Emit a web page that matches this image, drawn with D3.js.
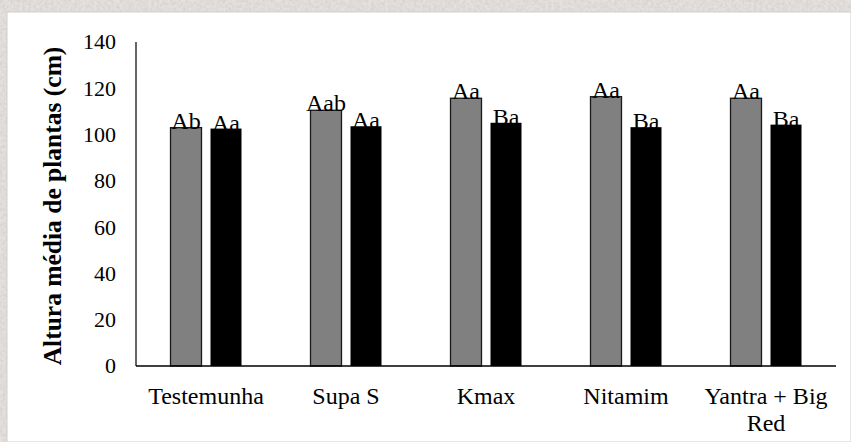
<!DOCTYPE html>
<html>
<head>
<meta charset="utf-8">
<script src="https://cdn.jsdelivr.net/npm/d3@7"></script>
<style>
  html, body { margin: 0; padding: 0; background: #dcd9d6; }
  svg { display: block; }
</style>
</head>
<body>
<svg id="chart" width="851" height="442"></svg>
<script>
// Treatments on the x axis (label lines split where the text wraps)
const categories = ["Testemunha", "Supa S", "Kmax", "Nitamim", "Yantra + Big Red"];
const categoryLines = [["Testemunha"], ["Supa S"], ["Kmax"], ["Nitamim"], ["Yantra + Big", "Red"]];

// Mean plant height (cm) per treatment, two series per group
const seriesGray  = [103.0, 110.5, 115.7, 116.4, 115.7];
const seriesBlack = [102.6, 103.6, 105.1, 103.2, 104.3];

// Statistical letters above each bar
const lettersGray  = ["Ab", "Aab", "Aa", "Aa", "Aa"];
const lettersBlack = ["Aa", "Aa", "Ba", "Ba", "Ba"];

// Y axis ticks
const yTicks = [0, 20, 40, 60, 80, 100, 120, 140];

const svg = d3.select("#chart");
const W = 851, H = 442;
const font = "'Liberation Serif', 'Times New Roman', serif";

// textured backdrop
const defs = svg.append("defs");
const f = defs.append("filter").attr("id", "grain").attr("x", 0).attr("y", 0).attr("width", "100%").attr("height", "100%");
f.append("feTurbulence").attr("type", "fractalNoise").attr("baseFrequency", 0.35).attr("numOctaves", 2).attr("seed", 4);
f.append("feColorMatrix").attr("type", "matrix")
  .attr("values", "0 0 0 0 0.55  0 0 0 0 0.53  0 0 0 0 0.52  0 0 0 -1.6 1.1");
svg.append("rect").attr("width", W).attr("height", H).attr("fill", "#e4e1de");
svg.append("rect").attr("width", W).attr("height", H).attr("filter", "url(#grain)").attr("opacity", 0.55);

// white chart panel
svg.append("rect").attr("x", 7).attr("y", 12).attr("width", W - 7).attr("height", H - 12)
  .attr("fill", "#ffffff").attr("stroke", "#cfcfcf").attr("stroke-width", 1);

const x0 = 136, x1 = 836, yTop = 42, yBase = 366;

const x = d3.scaleBand().domain(categories).range([x0, x1]).paddingInner(0).paddingOuter(0);
const y = d3.scaleLinear().domain([0, 140]).range([yBase, yTop]);

const barW = 31, gap = 9;

// y tick labels
svg.append("g").selectAll("text").data(yTicks).join("text")
  .attr("x", 116).attr("y", d => y(d)).attr("dy", "0.34em")
  .attr("text-anchor", "end").attr("font-family", font).attr("font-size", 22)
  .attr("fill", "#000").text(d => d);

// y axis title
svg.append("text")
  .attr("transform", `translate(61,${(yTop + yBase) / 2 + 2}) rotate(-90)`)
  .attr("text-anchor", "middle").attr("font-family", font).attr("font-weight", "bold")
  .attr("font-size", 25.5).attr("fill", "#000")
  .text("Altura média de plantas (cm)");

// bars
const groups = svg.append("g").selectAll("g").data(categories).join("g");
const cx = c => x(c) + x.bandwidth() / 2;

groups.append("rect")
  .attr("x", c => cx(c) - gap / 2 - barW)
  .attr("y", (c, i) => y(seriesGray[i]))
  .attr("width", barW)
  .attr("height", (c, i) => yBase - y(seriesGray[i]))
  .attr("fill", "#808080").attr("stroke", "#1a1a1a").attr("stroke-width", 1.3);

groups.append("rect")
  .attr("x", c => cx(c) + gap / 2)
  .attr("y", (c, i) => y(seriesBlack[i]))
  .attr("width", barW)
  .attr("height", (c, i) => yBase - y(seriesBlack[i]))
  .attr("fill", "#000");

// letters above bars
groups.append("text")
  .attr("x", c => cx(c) - gap / 2 - barW / 2)
  .attr("y", (c, i) => y(seriesGray[i]) + 1)
  .attr("text-anchor", "middle").attr("font-family", font).attr("font-size", 24)
  .text((c, i) => lettersGray[i]);

groups.append("text")
  .attr("x", c => cx(c) + gap / 2 + barW / 2)
  .attr("y", (c, i) => y(seriesBlack[i]) + 2)
  .attr("text-anchor", "middle").attr("font-family", font).attr("font-size", 24)
  .text((c, i) => lettersBlack[i]);

// axes lines
svg.append("line").attr("x1", x0).attr("x2", x0).attr("y1", yTop).attr("y2", yBase)
  .attr("stroke", "#000").attr("stroke-width", 1.2);
svg.append("line").attr("x1", x0).attr("x2", x1).attr("y1", yBase).attr("y2", yBase)
  .attr("stroke", "#000").attr("stroke-width", 1.5);

// category labels
groups.each(function (c, i) {
  const t = d3.select(this).append("text")
    .attr("text-anchor", "middle").attr("font-family", font).attr("font-size", 24).attr("fill", "#000");
  categoryLines[i].forEach((line, k) => {
    t.append("tspan").attr("x", cx(c)).attr("y", 404 + k * 27).text(line);
  });
});
</script>
</body>
</html>
